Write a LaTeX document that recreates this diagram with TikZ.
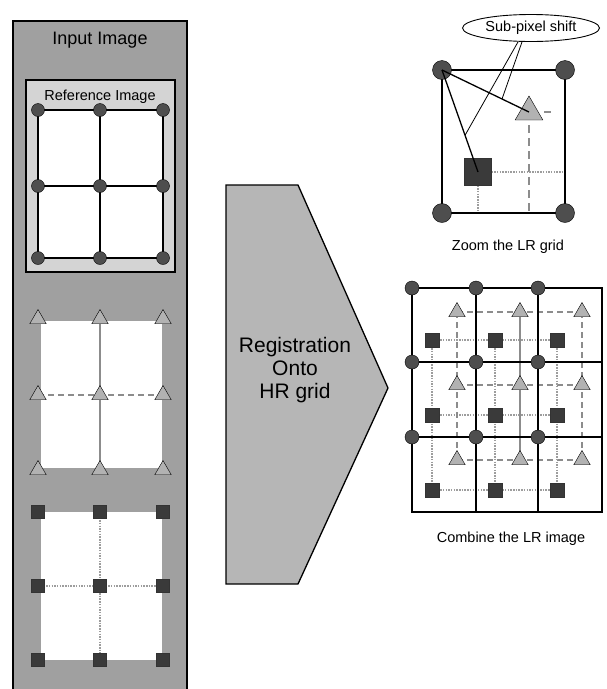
\documentclass[tikz,border=0pt]{standalone}
\usepackage{fontspec}
\setmainfont{Liberation Sans}
\usepackage{xcolor}
\definecolor{panelgray}{RGB}{160, 160, 160}
\definecolor{boxgray}{RGB}{212, 212, 212}
\definecolor{arrowgray}{RGB}{182, 182, 182}
\definecolor{dotgray}{RGB}{78, 78, 78}
\definecolor{trigray}{RGB}{178, 178, 178}
\definecolor{squaregray}{RGB}{58, 58, 58}
\definecolor{linegray}{RGB}{140, 140, 140}
\usepackage{tikz}
\usetikzlibrary{positioning, calc, shapes.geometric}

\begin{document}
\begin{tikzpicture}[x=1pt, y=-1pt,
    lrdot/.style={circle, draw=black, fill=dotgray, inner sep=0pt, minimum size=#1},
    lrtri/.style={regular polygon, regular polygon sides=3, draw=black, fill=trigray, inner sep=0pt, minimum size=#1},
    lrsquare/.style={rectangle, draw=black!80, fill=squaregray, inner sep=0pt, minimum size=#1},
    gridline/.style={black, line width=1.3pt},
    tridash/.style={linegray, line width=1.3pt, dash pattern=on 6pt off 4pt},
    trisolid/.style={linegray, line width=1.1pt},
    sqdot/.style={linegray!85, line width=1.1pt, dash pattern=on 1.5pt off 1.2pt},
    lbltext/.style={font=\fontsize{14.5}{17}\selectfont, inner sep=0pt}]
    \useasboundingbox (0, 0) rectangle (606, 689);

    % left column: the input images
    \fill[panelgray] (13, 21) rectangle (187, 689);
    \draw[black, line width=1.3pt] (13, 689) -- (13, 21) -- (187, 21) -- (187, 689);
    \node[font=\fontsize{18}{20}\selectfont, inner sep=0pt] (inputlbl) at (100, 40) {Input Image};

    \draw[fill=boxgray, line width=1.5pt] (26, 80) rectangle (175, 272);
    \node[lbltext] (reflbl) at (100, 97) {Reference Image};
    \fill[white] (38, 110) rectangle (163, 258);
    \fill[white] (41, 321) rectangle (162, 468);
    \fill[white] (41, 512) rectangle (162, 660);

    \foreach \x [count=\i] in {38, 100, 163} {
        \foreach \y [count=\j] in {110, 186, 258}
            \coordinate (ref-\i-\j) at (\x, \y);
        \foreach \y [count=\j] in {319, 395, 470}
            \coordinate (tri-\i-\j) at (\x, \y);
        \foreach \y [count=\j] in {512, 586, 660}
            \coordinate (sq-\i-\j) at (\x, \y);
    }

    \draw[gridline] (ref-1-1) rectangle (ref-3-3);
    \draw[gridline] (ref-2-1) -- (ref-2-3);
    \draw[gridline] (ref-1-2) -- (ref-3-2);
    \draw[trisolid] (tri-2-1) -- (tri-2-3);
    \draw[tridash] (tri-1-2) -- (tri-3-2);
    \draw[sqdot] (sq-2-1) -- (sq-2-3);
    \draw[sqdot] (sq-1-2) -- (sq-3-2);

    \foreach \i in {1, 2, 3} {
        \foreach \j in {1, 2, 3} {
            \node[lrdot=13pt] at (ref-\i-\j) {};
            \node[lrtri=19pt] at (tri-\i-\j) {};
            \node[lrsquare=13pt] at (sq-\i-\j) {};
        }
    }

    % registration arrow
    \draw[fill=arrowgray, line width=1.3pt] (226, 185) -- (298, 185) -- (388, 388) -- (298, 584) -- (226, 584) -- cycle;
    \node[font=\fontsize{21}{23}\selectfont, align=center, inner sep=0pt] (regtext) at (295, 370) {Registration\\Onto\\HR grid};

    % zoom of one LR cell
    \coordinate (Ztl) at (442, 70);
    \coordinate (Ztr) at (565, 70);
    \coordinate (Zbl) at (442, 213);
    \coordinate (Zbr) at (565, 213);
    \coordinate (Ztri) at (529, 112);
    \coordinate (Zsq) at (478, 172);

    \draw[tridash, dash pattern=on 8pt off 5pt] (Ztri) -- (Ztri |- Zbr);
    \draw[tridash, dash pattern=on 0pt off 15pt on 7pt off 30pt] (Ztri) -- (Ztri -| Ztr);
    \draw[sqdot] (Zsq) -- (Zsq -| Zbr);
    \draw[sqdot] (Zsq) -- (Zsq |- Zbr);
    \draw[gridline] (Ztl) rectangle (Zbr);
    \foreach \c in {Ztl, Ztr, Zbl, Zbr}
        \node[lrdot=19pt] at (\c) {};
    \node[lrtri=32pt] (zoomtri) at (Ztri) {};
    \node[lrsquare=27pt] (zoomsq) at (Zsq) {};
    \draw[gridline] (Ztl) -- (Ztri);
    \draw[gridline] (Ztl) -- (Zsq);

    \node[ellipse, draw, line width=0.9pt, minimum width=137pt, minimum height=27pt, lbltext] (shiftlbl) at (531, 28) {Sub-pixel shift};
    \coordinate (shiftA) at ($(Ztl)!0.64!(Zsq)$);
    \coordinate (shiftB) at ($(Ztl)!0.69!(Ztri)$);
    \draw[line width=0.8pt] ([xshift=-13pt]shiftlbl.south) -- (shiftA);
    \draw[line width=0.8pt] ([xshift=-9pt]shiftlbl.south) -- (shiftB);
    \node[lbltext] (zoomlbl) at (508, 247) {Zoom the LR grid};

    % combined HR grid
    \foreach \x [count=\i] in {412, 476, 538, 602}
        \foreach \y [count=\j] in {288, 362, 437, 512}
            \coordinate (hr-\i-\j) at (\x, \y);
    \foreach \x [count=\i] in {457, 520, 582} {
        \foreach \y [count=\j] in {312, 385, 460}
            \coordinate (ctri-\i-\j) at (\x, \y);
        \foreach \y [count=\j] in {340, 415, 490}
            \coordinate (csq-\i-\j) at (\x - 25, \y);
    }

    \foreach \k in {1, 2, 3} {
        \draw[tridash] (ctri-1-\k) -- (ctri-3-\k);
        \draw[sqdot] (csq-1-\k) -- (csq-3-\k);
        \draw[sqdot] (csq-\k-1) -- (csq-\k-3);
    }
    \draw[tridash] (ctri-1-1) -- (ctri-1-3);
    \draw[trisolid] (ctri-2-1) -- (ctri-2-3);
    \draw[tridash] (ctri-3-1) -- (ctri-3-3);

    \draw[gridline] (hr-1-1) rectangle (hr-4-4);
    \foreach \k in {2, 3} {
        \draw[gridline] (hr-\k-1) -- (hr-\k-4);
        \draw[gridline] (hr-1-\k) -- (hr-4-\k);
    }
    \foreach \i in {1, 2, 3} {
        \foreach \j in {1, 2, 3} {
            \node[lrdot=14pt] at (hr-\i-\j) {};
            \node[lrtri=19pt] at (ctri-\i-\j) {};
            \node[lrsquare=14pt] at (csq-\i-\j) {};
        }
    }
    \node[lbltext] (combinelbl) at (511, 539) {Combine the LR image};
\end{tikzpicture}
\end{document}
